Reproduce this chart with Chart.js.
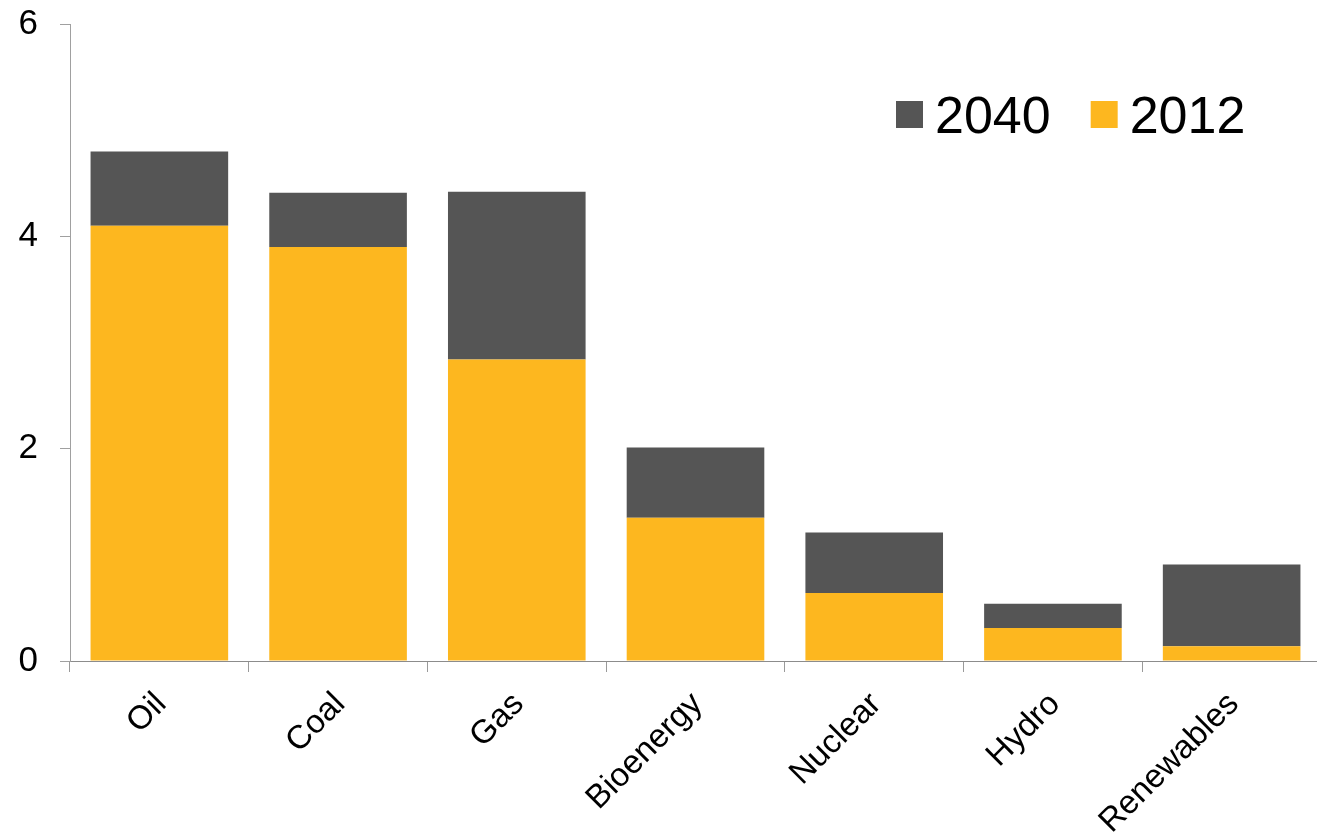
<!DOCTYPE html>
<html>
<head>
<meta charset="utf-8">
<script src="https://cdn.jsdelivr.net/npm/chart.js@4/dist/chart.umd.min.js"></script>
<style>
  html, body { margin: 0; padding: 0; background: #fff; overflow: hidden; }
  #wrap { width: 1321px; height: 832px; position: relative; }
</style>
</head>
<body>
<div id="wrap"><canvas id="c"></canvas></div>
<script>
const categories = ['Oil', 'Coal', 'Gas', 'Bioenergy', 'Nuclear', 'Hydro', 'Renewables'];
const values2012 = [4.10, 3.90, 2.84, 1.35, 0.64, 0.31, 0.14];
const increase2040 = [0.70, 0.51, 1.58, 0.66, 0.57, 0.23, 0.77];
const yTicks = [0, 2, 4, 6];

const FONT = "'Liberation Sans', Arial, sans-serif";
const ORANGE = '#FDB71F';
const GREY = '#555555';

const legendPlugin = {
  id: 'customLegend',
  afterDraw(chart) {
    const ctx = chart.ctx;
    const area = chart.chartArea;
    const items = chart.data.datasets.slice().reverse();
    ctx.save();
    ctx.font = '52px ' + FONT;
    ctx.textBaseline = 'alphabetic';
    ctx.textAlign = 'left';
    let x = area.right - 425;
    const boxTop = area.top + 77;
    const baseline = area.top + 109;
    items.forEach(ds => {
      ctx.fillStyle = ds.backgroundColor;
      ctx.fillRect(x, boxTop, 27, 27);
      x += 27 + 12;
      ctx.fillStyle = '#000';
      ctx.fillText(ds.label, x, baseline);
      x += ctx.measureText(ds.label).width + 40;
    });
    ctx.restore();
  }
};

new Chart(document.getElementById('c'), {
  type: 'bar',
  data: {
    labels: categories,
    datasets: [
      { label: '2012', data: values2012, backgroundColor: ORANGE, borderWidth: 0 },
      { label: '2040', data: increase2040, backgroundColor: GREY, borderWidth: 0 }
    ]
  },
  options: {
    responsive: true,
    maintainAspectRatio: false,
    animation: false,
    layout: { padding: { top: 24, right: 0, left: 0, bottom: 0 } },
    datasets: { bar: { barPercentage: 0.77, categoryPercentage: 1.0 } },
    plugins: { legend: { display: false }, tooltip: { enabled: false } },
    scales: {
      x: {
        stacked: true,
        offset: true,
        grid: { offset: true, drawOnChartArea: false, drawTicks: true, tickLength: 11, color: '#9a9a9a', lineWidth: 1 },
        border: { display: true, color: '#8c8c8c', width: 1 },
        ticks: { minRotation: 45, maxRotation: 45, autoSkip: false, color: '#000', padding: 13, labelOffset: 2, font: { family: FONT, size: 33 } },
        afterFit(scale) { scale.height = 171; scale.paddingLeft = 0; scale.paddingRight = 0; }
      },
      y: {
        stacked: true,
        min: 0, max: 6,
        afterBuildTicks(scale) { scale.ticks = yTicks.map(v => ({ value: v })); },
        grid: { drawOnChartArea: false, drawTicks: true, tickLength: 10, color: '#a0a0a0', lineWidth: 1 },
        border: { display: true, color: '#a0a0a0', width: 1 },
        ticks: { color: '#000', padding: 22, font: { family: FONT, size: 35 } },
        afterFit(scale) { scale.width = 70; scale.paddingTop = 0; scale.paddingBottom = 0; }
      }
    }
  },
  plugins: [legendPlugin]
});
</script>
</body>
</html>
